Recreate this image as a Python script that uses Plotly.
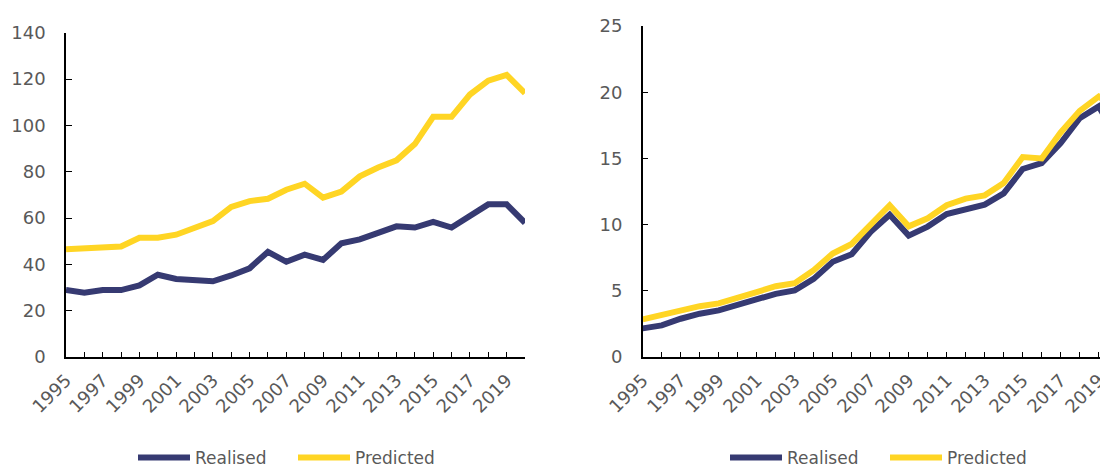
import plotly.graph_objects as go
from plotly.subplots import make_subplots

# Data
years = list(range(1995, 2021))

left_realised = [28.9, 27.7, 28.9, 28.9, 30.9, 35.5, 33.7, 33.3, 32.7, 35.2,
                 38.3, 45.4, 41.1, 44.2, 41.9, 49.1, 50.8, 53.6, 56.4, 55.9,
                 58.3, 55.9, 61.0, 65.9, 65.9, 57.9]
left_predicted = [46.5, 46.7, 47.2, 47.7, 51.5, 51.5, 52.8, 55.7, 58.7, 64.8,
                  67.3, 68.3, 72.2, 74.8, 68.8, 71.4, 78.0, 81.8, 84.9, 91.9,
                  103.7, 103.7, 113.3, 119.3, 121.8, 113.9]

right_realised = [2.16, 2.39, 2.89, 3.27, 3.52, 3.97, 4.40, 4.77, 5.03, 5.90,
                  7.19, 7.76, 9.45, 10.75, 9.17, 9.85, 10.80, 11.21, 11.51, 12.36,
                  14.20, 14.65, 16.16, 18.04, 18.92, 16.5]
right_predicted = [2.84, 3.17, 3.54, 3.84, 4.05, 4.42, 4.90, 5.35, 5.58, 6.56,
                   7.81, 8.54, 10.0, 11.46, 9.87, 10.48, 11.46, 11.96, 12.21, 13.14,
                   15.10, 15.0, 16.96, 18.59, 19.67, 18.7]

tick_text = [str(y) if y % 2 == 1 else "" for y in years]

NAVY = "#363a72"
YELLOW = "#ffd524"
GREY = "#595959"
FONT = "DejaVu Sans"

fig = make_subplots(rows=1, cols=2)

# Left chart
fig.add_trace(go.Scatter(x=years, y=left_realised, mode="lines", name="Realised",
                         line=dict(color=NAVY, width=6), legend="legend"),
              row=1, col=1)
fig.add_trace(go.Scatter(x=years, y=left_predicted, mode="lines", name="Predicted",
                         line=dict(color=YELLOW, width=6), legend="legend"),
              row=1, col=1)

# Right chart
fig.add_trace(go.Scatter(x=years, y=right_realised, mode="lines", name="Realised",
                         line=dict(color=NAVY, width=6), legend="legend2"),
              row=1, col=2)
fig.add_trace(go.Scatter(x=years, y=right_predicted, mode="lines", name="Predicted",
                         line=dict(color=YELLOW, width=6), legend="legend2"),
              row=1, col=2)

# page body has an 8px margin, so the figure is 8px smaller than the window
W, H = 1100, 459
PB = 349  # plot bottom in figure pixels

axis_common = dict(showline=True, linecolor="black", linewidth=1.5,
                   showgrid=False, zeroline=False, ticks="inside",
                   tickcolor="black", tickwidth=1.2, automargin=False,
                   tickfont=dict(family=FONT, size=18, color=GREY))

fig.update_xaxes(**axis_common, tickvals=years, ticktext=tick_text,
                 tickangle=-45, ticklen=5, ticklabelstandoff=4,
                 ticklabeloverflow="allow")
fig.update_yaxes(**axis_common, ticklen=6, ticklabelstandoff=15)

legend_common = dict(orientation="h", y=(PB - 450) / PB, yanchor="middle",
                     xanchor="left", itemwidth=52, entrywidth=93,
                     font=dict(family=FONT, size=17, color=GREY))

fig.update_layout(
    xaxis=dict(domain=[58 / W, 517 / W], range=[1995, 2020]),
    xaxis2=dict(domain=[634.7 / W, 1.0], range=[1995, 2019.49]),
    yaxis=dict(domain=[0, (PB - 24.7) / PB], range=[0, 140], dtick=20),
    yaxis2=dict(domain=[0, (PB - 18) / PB], range=[0, 25], dtick=5),
    width=W, height=H,
    margin=dict(l=0, r=0, t=0, b=H - PB, autoexpand=False),
    plot_bgcolor="white", paper_bgcolor="white",
    legend=dict(legend_common, x=125 / W),
    legend2=dict(legend_common, x=717 / W),
)

fig.write_html("out.html")
